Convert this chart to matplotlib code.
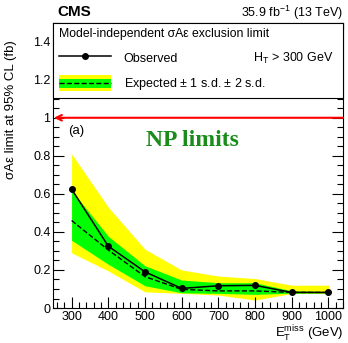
import numpy as np
import matplotlib
matplotlib.use('Agg')
import matplotlib.pyplot as plt
from matplotlib.patches import Rectangle
from matplotlib.lines import Line2D
from matplotlib.ticker import MultipleLocator

plt.rcParams['font.family'] = ['Liberation Sans', 'DejaVu Sans']
plt.rcParams['mathtext.fontset'] = 'custom'
plt.rcParams['mathtext.rm'] = 'Liberation Sans'
plt.rcParams['mathtext.it'] = 'Liberation Sans:italic'

## values
met = [300, 400, 500, 600, 700, 800, 900, 1000]
observed = [0.625, 0.325, 0.19, 0.103, 0.117, 0.119, 0.082, 0.082]
expected = [0.46, 0.305, 0.165, 0.098, 0.09, 0.09, 0.082, 0.082]
sd1_lo = [0.356, 0.23, 0.117, 0.08, 0.077, 0.072, 0.078, 0.079]
sd1_hi = [0.618, 0.377, 0.222, 0.147, 0.133, 0.133, 0.09, 0.086]
sd2_lo = [0.29, 0.195, 0.085, 0.077, 0.068, 0.042, 0.076, 0.077]
sd2_hi = [0.81, 0.53, 0.309, 0.2, 0.168, 0.155, 0.12, 0.12]
np_limit = 1.0


class BandHandler:
    # yellow box with green inner box and dashed line, like the ROOT legend
    def legend_artist(self, legend, orig_handle, fontsize, handlebox):
        x0, y0 = handlebox.xdescent, handlebox.ydescent
        w, h = handlebox.width, handlebox.height
        tr = handlebox.get_transform()
        yellow = Rectangle((-x0, -y0), w, h, facecolor='#ffff00', edgecolor='none', transform=tr)
        green = Rectangle((-x0, -y0 + 0.22 * h), w, 0.56 * h, facecolor='#00ff00', edgecolor='none', transform=tr)
        line = Line2D([-x0, -x0 + w], [-y0 + h / 2, -y0 + h / 2], color='black', ls='--', lw=1, transform=tr)
        for a in (yellow, green, line):
            handlebox.add_artist(a)
        return yellow


fig = plt.figure(figsize=(3.48, 3.43), dpi=100)
ax = fig.add_axes([0.153, 0.102, 0.833, 0.832])

ax.fill_between(met, sd2_lo, sd2_hi, color='#ffff00', lw=0)
ax.fill_between(met, sd1_lo, sd1_hi, color='#00ff00', lw=0)
ax.plot(met, expected, color='black', ls='--', lw=1)
ax.plot(met, observed, color='black', lw=1.1, marker='o', ms=4)

ax.annotate('', xy=(252, np_limit), xytext=(1040, np_limit),
            arrowprops=dict(arrowstyle='->', color='red', lw=1.5, mutation_scale=10,
                            shrinkA=0, shrinkB=0))

ax.text(628, 0.88, 'NP limits', color='#1a8c1a', fontsize=17, fontweight='bold',
        family='Liberation Serif', ha='center', va='center')
ax.text(291, 0.93, '(a)', fontsize=9.5, ha='left', va='center')

ax.set_xlim(250, 1040)
ax.set_ylim(0, 1.5)
ax.set_xticks(met)
ax.xaxis.set_minor_locator(MultipleLocator(20))
ax.yaxis.set_minor_locator(MultipleLocator(0.05))
ax.set_yticks([0, 0.2, 0.4, 0.6, 0.8, 1, 1.2, 1.4])
ax.set_yticklabels(['0', '0.2', '0.4', '0.6', '0.8', '1', '1.2', '1.4'])
ax.tick_params(which='both', direction='in', top=True, right=True, labelsize=9, pad=2)
ax.tick_params(which='major', length=8, width=0.8)
ax.tick_params(which='minor', length=4, width=0.8)

ax.set_xlabel(r'$\mathrm{E}_{\mathrm{T}}^{\mathrm{miss}}$ (GeV)', fontsize=9.5, loc='right', labelpad=1)
ax.set_ylabel(r'σAε limit at 95% CL (fb)', fontsize=9.5, loc='top')
ax.yaxis.set_label_coords(-0.125, 0.94)

handles = [Line2D([], [], color='black', lw=1.1, marker='o', ms=4), object()]
leg = ax.legend(handles, ['Observed', r'Expected $\pm$ 1 s.d. $\pm$ 2 s.d.'],
                handler_map={object: BandHandler()},
                title='Model-independent σAε exclusion limit', title_fontsize=8.8,
                alignment='left', fontsize=9, loc='upper left',
                bbox_to_anchor=(0, 1, 1, 0), mode='expand', borderaxespad=0,
                fancybox=False, edgecolor='black', framealpha=1,
                handlelength=4.2, handleheight=1.6, handletextpad=1.0,
                labelspacing=0.75, borderpad=0.45)
leg.get_frame().set_linewidth(0.8)
ax.text(0.689, 0.873, r'H$_\mathrm{T}$ > 300 GeV', transform=ax.transAxes, fontsize=9,
        va='center', ha='left', zorder=10)

fig.text(0.164, 0.965, 'CMS', fontsize=11, fontweight='bold', va='center', ha='left')
fig.text(0.986, 0.962, r'35.9 fb$^{-1}$ (13 TeV)', fontsize=9, va='center', ha='right')

fig.savefig('out.png', dpi=100)
